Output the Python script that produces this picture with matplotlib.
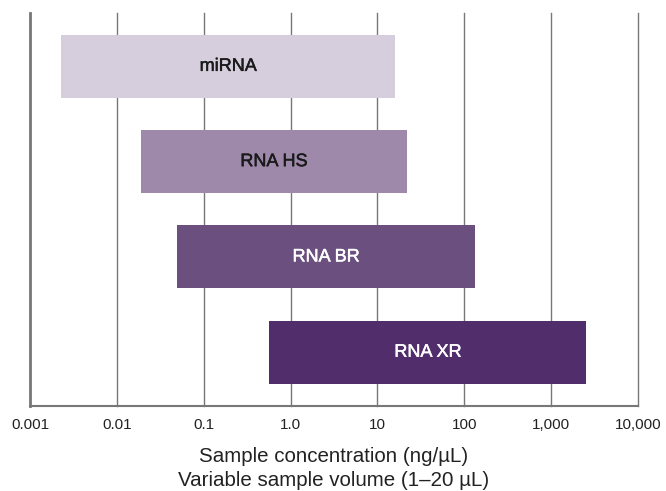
import numpy as np
import matplotlib
matplotlib.use("Agg")
import matplotlib.pyplot as plt
import matplotlib.patheffects as pe

assays = ["miRNA", "RNA HS", "RNA BR", "RNA XR"]
low = [0.0023, 0.0188, 0.049, 0.57]
high = [16.0, 22.0, 134.0, 2550.0]
colors = ["#d6cedd", "#9e89ab", "#6b4f7f", "#512e6b"]
text_colors = ["#1a1a1a", "#1a1a1a", "#ffffff", "#ffffff"]
tick_vals = [0.001, 0.01, 0.1, 1, 10, 100, 1000, 10000]
tick_labels = ["0.001", "0.01", "0.1", "1.0", "10", "100", "1,000", "10,000"]
xlabel = "Sample concentration (ng/\u00b5L)\nVariable sample volume (1\u201320 \u00b5L)"

plt.rcParams["font.family"] = ["Liberation Sans", "DejaVu Sans"]

fig = plt.figure(figsize=(6.66, 4.91), dpi=100)
ax = fig.add_axes([0.045, 0.174, 0.913, 0.7995])

ypos = np.arange(len(assays))
for y, lo, hi, c, tc, name in zip(ypos, low, high, colors, text_colors, assays):
    ax.barh(y, hi - lo, left=lo, height=0.66, color=c, edgecolor="none", zorder=2)
    xc = np.sqrt(lo * hi)
    t = ax.text(xc, y, name, ha="center", va="center", color=tc, fontsize=13, zorder=3)
    t.set_path_effects([pe.withStroke(linewidth=0.35, foreground=tc)])

ax.set_xscale("log")
ax.set_xlim(0.001, 10000)
ax.set_ylim(3.56, -0.56)
ax.set_xticks(tick_vals)
ax.set_xticklabels(tick_labels, fontsize=11, color="#222222")
ax.minorticks_off()
ax.set_yticks([])
ax.tick_params(axis="x", length=0, pad=9)
for v in tick_vals[1:]:
    ax.axvline(v, color="#777777", linewidth=1.0, zorder=0, clip_on=False)
for s in ["top", "right"]:
    ax.spines[s].set_visible(False)
ax.spines["left"].set_color("#777777")
ax.spines["left"].set_linewidth(2.0)
ax.spines["bottom"].set_color("#777777")
ax.spines["bottom"].set_linewidth(1.5)
ax.set_xlabel(xlabel, fontsize=14.8, color="#222222", labelpad=11, linespacing=1.3)

fig.savefig("out.png", dpi=100)
